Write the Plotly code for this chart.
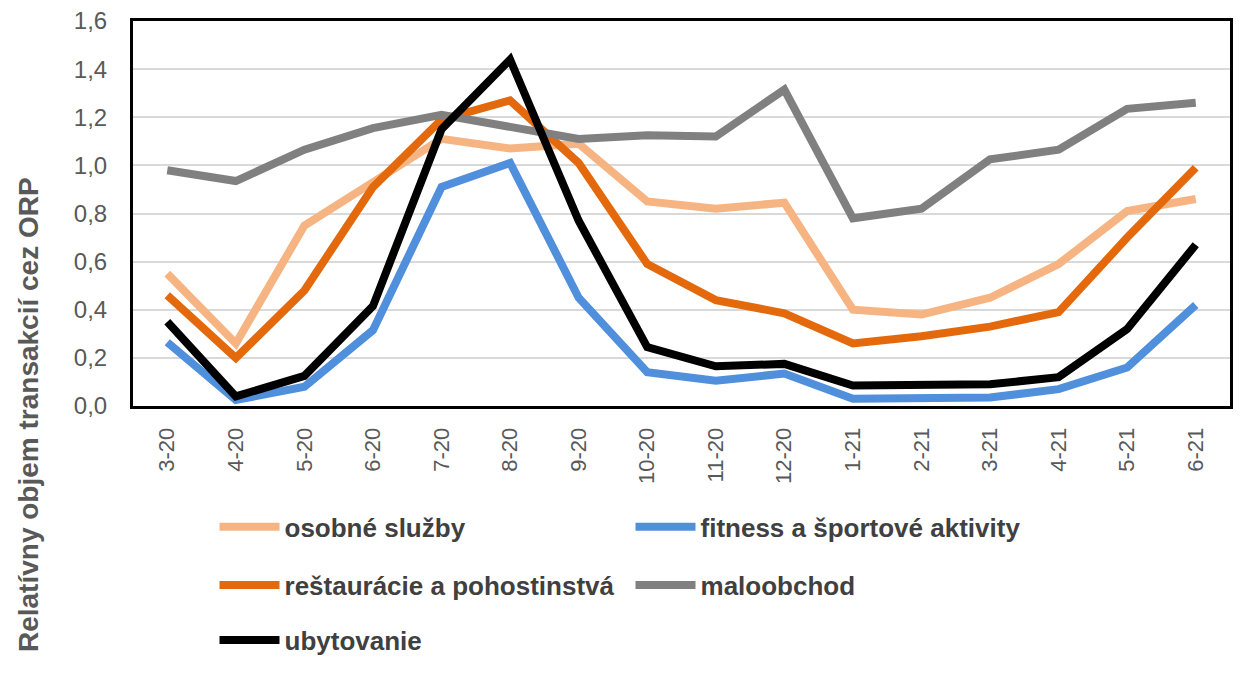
import plotly.graph_objects as go

months = ["3-20", "4-20", "5-20", "6-20", "7-20", "8-20", "9-20", "10-20",
          "11-20", "12-20", "1-21", "2-21", "3-21", "4-21", "5-21", "6-21"]

osobne_sluzby = [0.55, 0.26, 0.75, 0.93, 1.11, 1.07, 1.09, 0.85, 0.82, 0.845,
                 0.40, 0.38, 0.45, 0.59, 0.81, 0.86]
fitness = [0.265, 0.025, 0.08, 0.315, 0.91, 1.01, 0.45, 0.14, 0.105, 0.135,
           0.03, 0.03, 0.035, 0.07, 0.16, 0.42]
restauracie = [0.46, 0.20, 0.48, 0.91, 1.19, 1.27, 1.01, 0.59, 0.44, 0.385,
               0.26, 0.29, 0.33, 0.39, 0.70, 0.99]
maloobchod = [0.98, 0.935, 1.065, 1.155, 1.21, 1.16, 1.11, 1.125, 1.12, 1.315,
              0.78, 0.82, 1.025, 1.065, 1.235, 1.26]
ubytovanie = [0.35, 0.04, 0.125, 0.415, 1.15, 1.44, 0.77, 0.245, 0.165, 0.175,
              0.085, 0.09, 0.09, 0.12, 0.32, 0.67]

y_ticks = [0.0, 0.2, 0.4, 0.6, 0.8, 1.0, 1.2, 1.4, 1.6]
y_tick_text = ["0,0", "0,2", "0,4", "0,6", "0,8", "1,0", "1,2", "1,4", "1,6"]

series = [
    ("osobné služby", osobne_sluzby, "#F7B483", "legend"),
    ("fitness a športové aktivity", fitness, "#4F8FDB", "legend"),
    ("reštaurácie a pohostinstvá", restauracie, "#E4690C", "legend2"),
    ("maloobchod", maloobchod, "#808080", "legend2"),
    ("ubytovanie", ubytovanie, "#000000", "legend3"),
]

fig = go.Figure()
for name, vals, color, leg in series:
    fig.add_trace(go.Scatter(
        x=months, y=vals, name=name, mode="lines",
        line=dict(color=color, width=8, shape="linear"),
        legend=leg,
    ))

leg_font = dict(family="Liberation Sans, Arial, sans-serif", size=26, color="#404040",
                weight="bold")
leg_common = dict(orientation="h", xanchor="left", yanchor="middle",
                  font=leg_font, entrywidth=341, entrywidthmode="pixels",
                  itemwidth=60, bgcolor="rgba(0,0,0,0)", tracegroupgap=0)

# page body has an 8px default margin, so the figure is 8px smaller on each side
fig.update_layout(
    width=1235, height=669,
    margin=dict(l=125, r=13, t=13, b=271, autoexpand=False),
    paper_bgcolor="white", plot_bgcolor="white",
    showlegend=True,
    legend=dict(x=0.0743, y=-0.314, **leg_common),
    legend2=dict(x=0.0743, y=-0.465, **leg_common),
    legend3=dict(x=0.0743, y=-0.608, **leg_common),
    xaxis=dict(
        type="category", range=[-0.5, 15.5], tickangle=-90,
        tickfont=dict(family="Liberation Sans, Arial, sans-serif", size=22, color="#595959"),
        showgrid=False, showline=True, linecolor="black", linewidth=3, mirror=True,
        ticks="", ticklabelstandoff=10, zeroline=False, automargin=False,
        ticklabeloverflow="allow",
    ),
    yaxis=dict(
        range=[0, 1.6], tickvals=y_ticks, ticktext=y_tick_text,
        tickfont=dict(family="Liberation Sans, Arial, sans-serif", size=24, color="#595959"),
        showgrid=True, gridcolor="#D9D9D9", gridwidth=2,
        showline=True, linecolor="black", linewidth=3, mirror=True,
        ticks="", ticklabelstandoff=18, zeroline=False, automargin=False,
        ticklabeloverflow="allow",
    ),
    annotations=[dict(
        text="Relatívny objem transakcií cez ORP",
        xref="paper", yref="paper", x=-0.0957, y=-0.0234,
        xanchor="center", yanchor="middle", textangle=-90, showarrow=False,
        font=dict(family="Liberation Sans, Arial, sans-serif", size=28, color="#595959",
                  weight="bold"),
    )],
)

fig.write_html("out.html")
